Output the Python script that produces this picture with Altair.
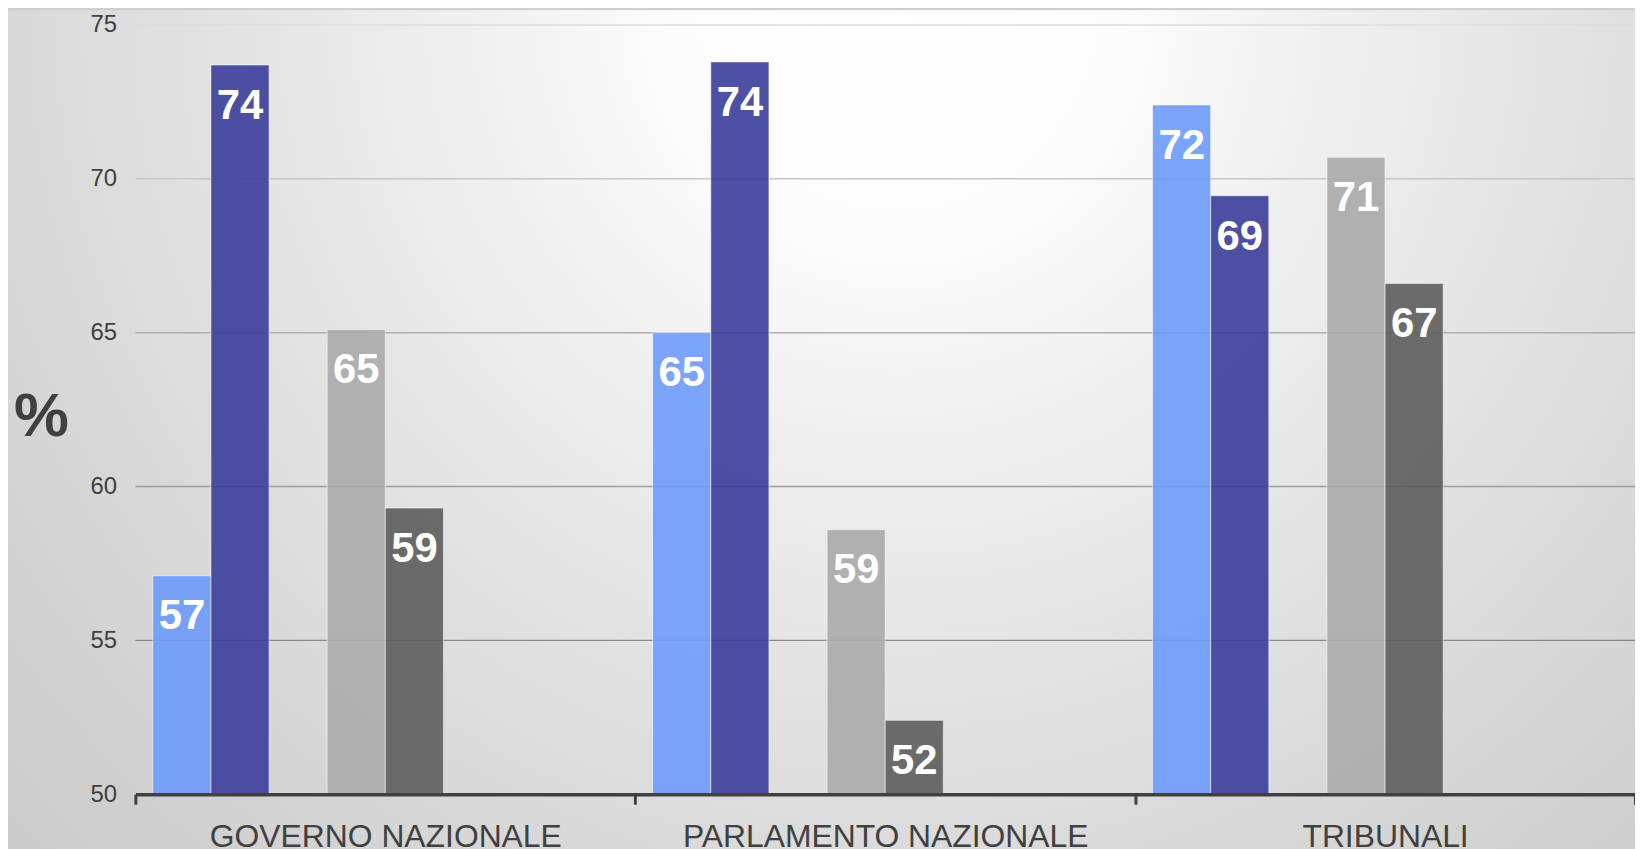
import altair as alt
import pandas as pd

groups = ["GOVERNO NAZIONALE", "PARLAMENTO NAZIONALE", "TRIBUNALI"]
slots = ["s1", "s2", "gap", "s3", "s4", "e1", "e2", "e3"]
series = ["s1", "s2", "s3", "s4"]
series_colors = ["#6d9bfa", "#3b3d99", "#aaaaaa", "#5d5d5d"]

s1_values = [57.1, 65.0, 72.4]
s2_values = [73.7, 73.8, 69.45]
s3_values = [65.1, 58.6, 70.7]
s4_values = [59.3, 52.4, 66.6]

grid_values = [55, 60, 65, 70, 75]
grid_colors = ["#8a8a8a", "#9c9c9c", "#b0b0b0", "#c6c6c6", "#dcdcdc"]
y_ticks = [50, 55, 60, 65, 70, 75]

rows = []
for s, vals in zip(series, [s1_values, s2_values, s3_values, s4_values]):
    for g, v in zip(groups, vals):
        rows.append({"group": g, "slot": s, "value": v})
df = pd.DataFrame(rows)
grid_df = pd.DataFrame({"v": grid_values})

W, H = 1507, 773

bg = alt.Chart(alt.Data(values=[{}])).mark_rect(
    fill={
        "gradient": "radial",
        "x1": 0.53, "y1": 0.0, "r1": 0,
        "x2": 0.53, "y2": 0.0, "r2": 1,
        "stops": [
            {"offset": 0.0, "color": "#ffffff"},
            {"offset": 0.1, "color": "#fcfcfc"},
            {"offset": 0.2, "color": "#efefef"},
            {"offset": 0.37, "color": "#dcdcdc"},
            {"offset": 0.5, "color": "#cfcfcf"},
            {"offset": 0.65, "color": "#c4c4c4"},
            {"offset": 1.0, "color": "#b0b0b0"},
        ],
    }
).encode(
    x=alt.value(-128), x2=alt.value(W + 20),
    y=alt.value(-15), y2=alt.value(-15 + 2200),
)

yscale = alt.Scale(domain=[50, 75], nice=False, zero=False)
yaxis = alt.Axis(values=y_ticks, zindex=5, domain=False, ticks=False, grid=False,
                 labelFontSize=24, labelColor="#404040", labelPadding=19,
                 titleAngle=0, titleFontSize=62, titleFontWeight="bold",
                 titleColor="#404040", titleAlign="center", titleBaseline="middle",
                 titleX=-95, titleY=394)

xscale = alt.Scale(domain=groups, paddingInner=0, paddingOuter=0)
xaxis = alt.Axis(title=None, labelAngle=0, tickBand="extent", zindex=5,
                 domainColor="#404040", domainWidth=3.5,
                 tickColor="#404040", tickWidth=3, tickSize=10,
                 labelFontSize=32, labelColor="#404040", labelPadding=18,
                 labelLimit=0, grid=False)
xoff = alt.XOffset("slot:N", scale=alt.Scale(domain=slots, paddingInner=0, paddingOuter=0.3))

grid = alt.Chart(grid_df).mark_rule(strokeWidth=1.5).encode(
    y=alt.Y("v:Q", scale=yscale, title="%", axis=yaxis),
    stroke=alt.Stroke("v:O", scale=alt.Scale(domain=grid_values, range=grid_colors), legend=None),
)

bars = alt.Chart(df).mark_bar(
    fillOpacity=0.9, stroke="#ffffff", strokeOpacity=0.55, strokeWidth=1,
).encode(
    x=alt.X("group:N", sort=groups, scale=xscale, axis=xaxis),
    xOffset=xoff,
    y=alt.Y("value:Q", scale=yscale, title="%", axis=yaxis),
    y2=alt.datum(50),
    fill=alt.Fill("slot:N", scale=alt.Scale(domain=series, range=series_colors), legend=None),
)

labels = alt.Chart(df).mark_text(
    color="white", fontSize=42, fontWeight="bold", baseline="alphabetic", dy=54,
    font="Liberation Sans",
).encode(
    x=alt.X("group:N", sort=groups, scale=xscale, axis=xaxis),
    xOffset=xoff,
    y=alt.Y("value:Q", scale=yscale, title="%", axis=yaxis),
    text=alt.Text("value:Q", format=".0f"),
)

chart = alt.layer(bg, grid, bars, labels).properties(
    width=W, height=H,
    autosize=alt.AutoSizeParams(type="none"),
    padding={"left": 128, "top": 15, "right": 0, "bottom": 60},
).configure(
    font="Liberation Sans",
    background="#cfcfcf",
).configure_view(
    stroke=None,
)

chart.save("out.html", embed_options={"renderer": "svg", "actions": False})
